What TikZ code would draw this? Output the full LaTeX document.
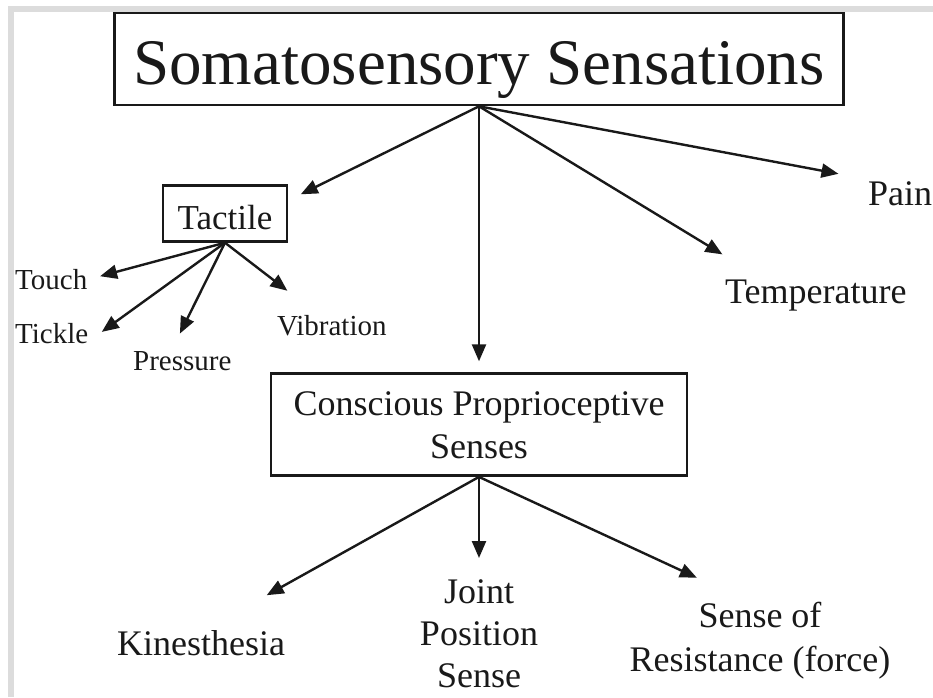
\documentclass[tikz,border=0pt]{standalone}
\usepackage{fontspec}
\setmainfont{Liberation Serif}
\usetikzlibrary{arrows.meta, positioning}
\definecolor{framegray}{RGB}{220,220,220}
\definecolor{ink}{RGB}{25,25,25}
\tikzset{
    titlebox/.style={rectangle, draw=ink, line width=2.6pt, inner sep=0pt, minimum width=729pt, text height=71pt, text depth=21pt, font=\fontsize{65}{70}\selectfont},
    tactbox/.style={rectangle, draw=ink, line width=2.4pt, inner sep=0pt, minimum width=124pt, text height=44pt, text depth=12pt, font=\fontsize{35}{42}\selectfont},
    consbox/.style={rectangle, draw=ink, line width=2.6pt, inner sep=0pt, minimum width=416pt, text height=85pt, text depth=17pt, align=center, font=\fontsize{36}{43}\selectfont},
    leaf/.style={inner sep=2pt, text=ink, font=\fontsize{36}{44}\selectfont},
    smallleaf/.style={inner sep=2pt, text=ink, font=\fontsize{29}{34}\selectfont},
    arrow/.style={-{Triangle[length=17pt,width=14pt]}, line width=2.4pt, ink},
}
\begin{document}
\begin{tikzpicture}[x=1pt,y=-1pt]
\useasboundingbox (0,0) rectangle (933,697);
% frame
\fill[framegray] (8,6) rectangle (933,12);
\fill[framegray] (8,6) rectangle (14,697);

% boxes
\node[titlebox,text=ink] (title) at (479,59) {Somatosensory Sensations};
\node[tactbox,text=ink,below=78pt of title,xshift=-254pt] (tact) {Tactile};
\node[consbox,text=ink,below=266pt of title] (cons) {Conscious Proprioceptive\\Senses};

% leaves
\node[leaf,anchor=base west] (pain) at (866,205) {Pain};
\node[leaf,anchor=base west] (temp) at (723,303) {Temperature};
\node[smallleaf,anchor=base west] (touch) at (13,289) {Touch};
\node[smallleaf,anchor=base west] (tickle) at (13,343) {Tickle};
\node[smallleaf,anchor=base west] (press) at (131,370) {Pressure};
\node[smallleaf,anchor=base west] (vib) at (275,335) {Vibration};
\node[leaf,anchor=base west] (kin) at (115,655) {Kinesthesia};
\node[leaf,anchor=north,align=center,font=\fontsize{36}{42}\selectfont] (joint) at (479,577) {Joint\\Position\\Sense};
\node[leaf,anchor=north,align=center] (res) at (760,600) {Sense of\\Resistance (force)};

% arrows
\draw[arrow,shorten >=14pt] (title.south) -- ([yshift=13pt]tact.east);
\draw[arrow,shorten >=11pt] (title.south) -- (cons.north);
\draw[arrow,shorten >=44pt] (title.south) -- ([xshift=37pt]temp.north west);
\draw[arrow,shorten >=28pt] (title.south) -- (pain.north west);
\draw[arrow,shorten >=11pt] (tact.south) -- (touch.east);
\draw[arrow,shorten >=14pt] (tact.south) -- ([yshift=-7pt]tickle.east);
\draw[arrow,shorten >=17pt] (tact.south) -- ([xshift=-10pt]press.north);
\draw[arrow,shorten >=36pt] (tact.south) -- ([xshift=-16pt]vib.north);
\draw[arrow,shorten >=67pt] (cons.south) -- ([xshift=7pt]kin.north);
\draw[arrow,shorten >=19pt] (cons.south) -- (joint.north);
\draw[arrow,shorten >=53pt] (cons.south) -- ([xshift=-15pt]res.north);
\end{tikzpicture}
\end{document}
